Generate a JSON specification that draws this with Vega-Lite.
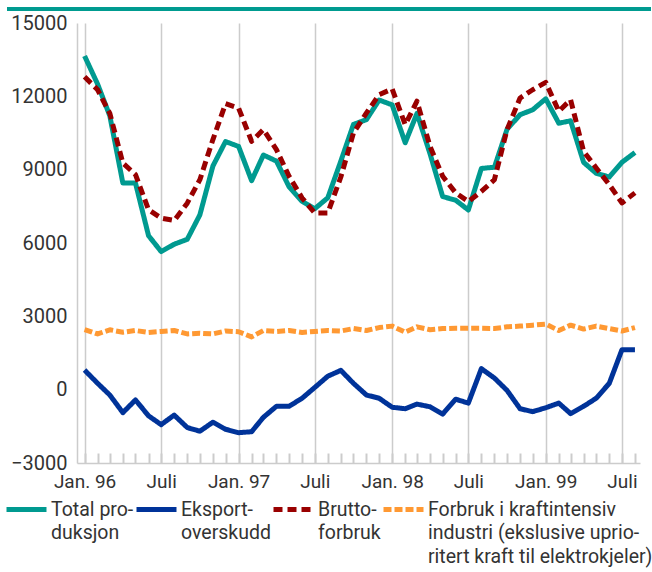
{
  "$schema": "https://vega.github.io/schema/vega-lite/v6.json",
  "width": 563,
  "height": 440,
  "autosize": {"type": "none"},
  "padding": {"left": 77, "top": 23, "right": 12, "bottom": 109},
  "background": "white",
  "config": {
    "view": {"stroke": null},
    "font": "Roboto",
    "style": {"guide-label": {"lineHeight": 23.5}}
  },
  "data": {
    "values": [
      {"month": "1996-01-01", "total": 13650, "eksport": 800, "brutto": 12800, "forbruk": 2460},
      {"month": "1996-02-01", "total": 12500, "eksport": 260, "brutto": 12270, "forbruk": 2280},
      {"month": "1996-03-01", "total": 11200, "eksport": -220, "brutto": 11300, "forbruk": 2450},
      {"month": "1996-04-01", "total": 8450, "eksport": -940, "brutto": 9270, "forbruk": 2350},
      {"month": "1996-05-01", "total": 8450, "eksport": -420, "brutto": 8800, "forbruk": 2420},
      {"month": "1996-06-01", "total": 6300, "eksport": -1070, "brutto": 7360, "forbruk": 2340},
      {"month": "1996-07-01", "total": 5650, "eksport": -1430, "brutto": 7020, "forbruk": 2380},
      {"month": "1996-08-01", "total": 5950, "eksport": -1040, "brutto": 6920, "forbruk": 2420},
      {"month": "1996-09-01", "total": 6150, "eksport": -1550, "brutto": 7630, "forbruk": 2280},
      {"month": "1996-10-01", "total": 7150, "eksport": -1700, "brutto": 8590, "forbruk": 2310},
      {"month": "1996-11-01", "total": 9150, "eksport": -1330, "brutto": 10230, "forbruk": 2280},
      {"month": "1996-12-01", "total": 10150, "eksport": -1620, "brutto": 11700, "forbruk": 2400},
      {"month": "1997-01-01", "total": 9950, "eksport": -1760, "brutto": 11520, "forbruk": 2370},
      {"month": "1997-02-01", "total": 8550, "eksport": -1720, "brutto": 10160, "forbruk": 2160},
      {"month": "1997-03-01", "total": 9600, "eksport": -1130, "brutto": 10640, "forbruk": 2420},
      {"month": "1997-04-01", "total": 9350, "eksport": -680, "brutto": 9820, "forbruk": 2380},
      {"month": "1997-05-01", "total": 8300, "eksport": -680, "brutto": 8730, "forbruk": 2420},
      {"month": "1997-06-01", "total": 7700, "eksport": -350, "brutto": 7840, "forbruk": 2340},
      {"month": "1997-07-01", "total": 7400, "eksport": 90, "brutto": 7230, "forbruk": 2380},
      {"month": "1997-08-01", "total": 7850, "eksport": 550, "brutto": 7230, "forbruk": 2420},
      {"month": "1997-09-01", "total": 9350, "eksport": 790, "brutto": 8700, "forbruk": 2400},
      {"month": "1997-10-01", "total": 10850, "eksport": 260, "brutto": 10500, "forbruk": 2500},
      {"month": "1997-11-01", "total": 11050, "eksport": -220, "brutto": 11320, "forbruk": 2420},
      {"month": "1997-12-01", "total": 11850, "eksport": -350, "brutto": 12070, "forbruk": 2540},
      {"month": "1998-01-01", "total": 11650, "eksport": -720, "brutto": 12300, "forbruk": 2600},
      {"month": "1998-02-01", "total": 10100, "eksport": -780, "brutto": 10840, "forbruk": 2350},
      {"month": "1998-03-01", "total": 11300, "eksport": -590, "brutto": 11800, "forbruk": 2570},
      {"month": "1998-04-01", "total": 9650, "eksport": -700, "brutto": 9950, "forbruk": 2450},
      {"month": "1998-05-01", "total": 7900, "eksport": -1000, "brutto": 8730, "forbruk": 2500},
      {"month": "1998-06-01", "total": 7750, "eksport": -390, "brutto": 8050, "forbruk": 2510},
      {"month": "1998-07-01", "total": 7350, "eksport": -550, "brutto": 7700, "forbruk": 2510},
      {"month": "1998-08-01", "total": 9050, "eksport": 860, "brutto": 8110, "forbruk": 2510},
      {"month": "1998-09-01", "total": 9100, "eksport": 475, "brutto": 8590, "forbruk": 2500},
      {"month": "1998-10-01", "total": 10650, "eksport": -30, "brutto": 10640, "forbruk": 2570},
      {"month": "1998-11-01", "total": 11250, "eksport": -780, "brutto": 11930, "forbruk": 2600},
      {"month": "1998-12-01", "total": 11450, "eksport": -900, "brutto": 12270, "forbruk": 2640},
      {"month": "1999-01-01", "total": 11900, "eksport": -740, "brutto": 12570, "forbruk": 2680},
      {"month": "1999-02-01", "total": 10900, "eksport": -550, "brutto": 11390, "forbruk": 2420},
      {"month": "1999-03-01", "total": 11000, "eksport": -980, "brutto": 11860, "forbruk": 2640},
      {"month": "1999-04-01", "total": 9300, "eksport": -680, "brutto": 9750, "forbruk": 2480},
      {"month": "1999-05-01", "total": 8850, "eksport": -350, "brutto": 9070, "forbruk": 2600},
      {"month": "1999-06-01", "total": 8700, "eksport": 260, "brutto": 8390, "forbruk": 2500},
      {"month": "1999-07-01", "total": 9300, "eksport": 1630, "brutto": 7640, "forbruk": 2400},
      {"month": "1999-08-01", "total": 9700, "eksport": 1630, "brutto": 8050, "forbruk": 2540}
    ]
  },
  "layer": [
    {
      "mark": {"type": "rule", "color": "#009a90", "strokeWidth": 2.5, "clip": false},
      "encoding": {
        "y": {"datum": 15573, "type": "quantitative", "scale": {"domain": [-3000, 15000], "nice": false, "zero": false}},
        "x": {"datum": {"year": 1995, "month": 7, "date": 1, "utc": true}, "type": "temporal", "scale": {"type": "utc", "domain": [{"year": 1995, "month": 12, "date": 14, "utc": true}, {"year": 1999, "month": 8, "date": 13, "utc": true}], "nice": false}},
        "x2": {"datum": {"year": 1999, "month": 9, "date": 7, "utc": true}}
      }
    },
    {
      "transform": [{"fold": ["forbruk", "eksport", "total", "brutto"], "as": ["serie", "verdi"]}],
      "mark": {"type": "line", "strokeWidth": 5, "strokeJoin": "round", "clip": false},
      "encoding": {
        "x": {
          "field": "month",
          "type": "temporal",
          "scale": {"type": "utc", "domain": [{"year": 1995, "month": 12, "date": 14, "utc": true}, {"year": 1999, "month": 8, "date": 13, "utc": true}], "nice": false},
          "axis": {
            "title": null,
            "tickCount": {"interval": "month", "step": 1},
            "domainColor": "#cccccc",
            "domainWidth": 1.5,
            "tickColor": "#cccccc",
            "tickWidth": 2,
            "tickSize": -10,
            "grid": true,
            "gridColor": "#cccccc",
            "gridWidth": 1.5,
            "gridOpacity": {"condition": {"test": "utcmonth(datum.value) % 6 == 0", "value": 1}, "value": 0},
            "labelExpr": "utcmonth(datum.value) == 0 ? 'Jan. ' + utcFormat(datum.value, '%y') : (utcmonth(datum.value) == 6 ? 'Juli' : '')",
            "labelOverlap": false,
            "labelBound": false,
            "labelFlush": false,
            "labelFontSize": 19,
            "labelColor": "#333333",
            "labelPadding": 19,
            "labelBaseline": "top"
          }
        },
        "y": {
          "field": "verdi",
          "type": "quantitative",
          "scale": {"domain": [-3000, 15000], "nice": false, "zero": false},
          "axis": {
            "title": null,
            "values": [-3000, 0, 3000, 6000, 9000, 12000, 15000],
            "format": "d",
            "ticks": false,
            "domainColor": "#cccccc",
            "domainWidth": 1.5,
            "gridColor": "#cccccc",
            "gridWidth": 1.5,
            "labelFontSize": 20,
            "labelColor": "#333333",
            "labelPadding": 10
          }
        },
        "color": {
          "field": "serie",
          "type": "nominal",
          "scale": {"domain": ["total", "eksport", "brutto", "forbruk"], "range": ["#009a90", "#003399", "#990000", "#ff9933"]},
          "legend": {
            "title": null,
            "orient": "none",
            "legendX": -73,
            "legendY": 464,
            "direction": "horizontal",
            "columns": 4,
            "columnPadding": -21,
            "symbolType": "stroke",
            "symbolSize": 1600,
            "symbolStrokeWidth": 5,
            "labelFontSize": 19.5,
            "labelColor": "#333333",
            "labelLimit": 400,
            "labelOffset": 2,
            "labelBaseline": "middle",
            "labelExpr": "datum.value == 'total' ? ['Total pro-', 'duksjon', ''] : datum.value == 'eksport' ? ['Eksport-', 'overskudd', ''] : datum.value == 'brutto' ? ['Brutto-', 'forbruk', ''] : ['Forbruk i kraftintensiv', 'industri (ekslusive uprio-', 'ritert kraft til elektrokjeler)']"
          }
        },
        "strokeDash": {
          "field": "serie",
          "type": "nominal",
          "scale": {"domain": ["total", "eksport", "brutto", "forbruk"], "range": [[1, 0], [1, 0], [9, 5], [8, 3]]},
          "legend": {
            "title": null,
            "orient": "none",
            "legendX": -73,
            "legendY": 464,
            "direction": "horizontal",
            "columns": 4,
            "columnPadding": -21,
            "symbolType": "stroke",
            "symbolSize": 1600,
            "symbolStrokeWidth": 5,
            "labelFontSize": 19.5,
            "labelColor": "#333333",
            "labelLimit": 400,
            "labelOffset": 2,
            "labelBaseline": "middle",
            "labelExpr": "datum.value == 'total' ? ['Total pro-', 'duksjon', ''] : datum.value == 'eksport' ? ['Eksport-', 'overskudd', ''] : datum.value == 'brutto' ? ['Brutto-', 'forbruk', ''] : ['Forbruk i kraftintensiv', 'industri (ekslusive uprio-', 'ritert kraft til elektrokjeler)']"
          }
        }
      }
    }
  ]
}
